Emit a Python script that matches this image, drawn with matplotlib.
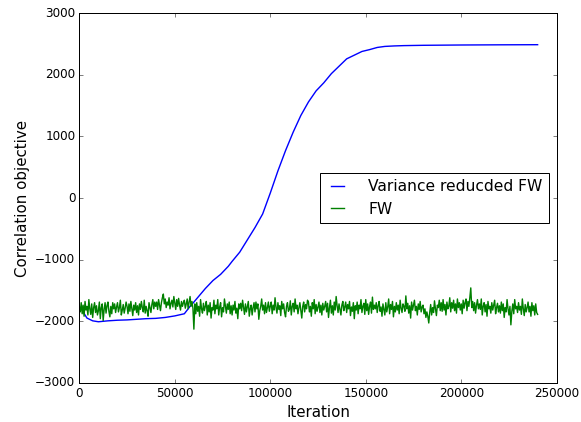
import numpy as np
import matplotlib
matplotlib.use("Agg")
import matplotlib.pyplot as plt

# Variance reduced FW
vr_iter = [2000, 4000, 7000, 10000, 15000, 20000, 25000, 30000, 35000, 40000,
           45000, 50000, 55000, 58000, 60000, 63000, 66000, 70000, 74000, 78000,
           80000, 84000, 88000, 92000, 96000, 100000, 102000, 104000, 108000, 112000,
           116000, 120000, 124000, 128000, 132000, 136000, 140000, 144000, 148000, 152000,
           156000, 160000, 165000, 170000, 180000, 200000, 220000, 240000]
vr_obj = [-1850, -1950, -1995, -2010, -1995, -1985, -1980, -1970, -1960, -1955,
          -1940, -1915, -1880, -1760, -1690, -1580, -1470, -1340, -1240, -1110,
          -1030, -880, -680, -480, -260, 80, 260, 440, 770, 1070,
          1340, 1560, 1740, 1870, 2020, 2140, 2260, 2320, 2380, 2410,
          2445, 2462, 2470, 2475, 2480, 2485, 2488, 2490]

# FW, um ponto a cada 500 iterações
fw_obj = [
    -1760, -1850, -1700, -1880, -1740, -1920, -1680, -1820, -1760, -1900,
    -1650, -1800, -1890, -1720, -1940, -1780, -1700, -1860, -1750, -1900,
    -1830, -1690, -1960, -1780, -1720, -1990, -1810, -1700, -1870, -1750,
    -1690, -1840, -1930, -1760, -1880, -1700, -1800, -1720, -1860, -1770,
    -1700, -1850, -1780, -1660, -1900, -1820, -1730, -1870, -1790, -1690,
    -1760, -1880, -1720, -1840, -1680, -1800, -1910, -1740, -1820, -1700,
    -1860, -1750, -1900, -1720, -1810, -1680, -1780, -1850, -1660, -1870,
    -1760, -1830, -1920, -1700, -1780, -1860, -1730, -1650, -1800, -1690,
    -1760, -1690, -1810, -1650, -1740, -1830, -1700, -1620, -1560, -1720,
    -1640, -1780, -1690, -1740, -1620, -1800, -1710, -1660, -1770, -1600,
    -1700, -1810, -1650, -1760, -1630, -1740, -1820, -1680, -1760, -1700,
    -1660, -1790, -1720, -1640, -1800, -1690, -1600, -1760, -1680, -1790,
    -2130, -1720, -1880, -1700, -1840, -1760, -1920, -1650, -1800, -1870,
    -1710, -1830, -1760, -1680, -1900, -1740, -1850, -1700, -1950, -1780,
    -1820, -1660, -1880, -1740, -1800, -1650, -1900, -1770, -1700, -1930,
    -1780, -1850, -1640, -1760, -1870, -1720, -1810, -1690, -1880, -1750,
    -1900, -1740, -1820, -1680, -1870, -1790, -1960, -1720, -1800, -1710,
    -1830, -1660, -1780, -1890, -1720, -1850, -1760, -1680, -1920, -1800,
    -1740, -1900, -1780, -1700, -1850, -1690, -1800, -1720, -1970, -1830,
    -1760, -1640, -1820, -1740, -1880, -1700, -1860, -1780, -1690, -1840,
    -1760, -1690, -1880, -1740, -1820, -1620, -1780, -1870, -1700, -1810,
    -1750, -1910, -1680, -1800, -1720, -1860, -1930, -1760, -1700, -1840,
    -1810, -1670, -1900, -1760, -1710, -1850, -1640, -1800, -1740, -1880,
    -1780, -1700, -1820, -1950, -1760, -1690, -1850, -1730, -1800, -1660,
    -1690, -1850, -1760, -1920, -1700, -1800, -1650, -1880, -1730, -1840,
    -1770, -1690, -1860, -1740, -1900, -1710, -1820, -1760, -1680, -1850,
    -1710, -1940, -1780, -1660, -1870, -1750, -1900, -1690, -1820, -1600,
    -1750, -1860, -1720, -1810, -1900, -1740, -1680, -1830, -1770, -1690,
    -1860, -1730, -1800, -1680, -1910, -1770, -1840, -1700, -1960, -1750,
    -1820, -1690, -1880, -1740, -1800, -1650, -1860, -1760, -1710, -1890,
    -1650, -1830, -1720, -1890, -1760, -1690, -1870, -1610, -1810, -1740,
    -1800, -1700, -1860, -1750, -1680, -1840, -1770, -1920, -1720, -1810,
    -1900, -1700, -1850, -1770, -1640, -1880, -1730, -1810, -1680, -1930,
    -1760, -1850, -1700, -1820, -1740, -1880, -1660, -1790, -1860, -1720,
    -1760, -1840, -1590, -1800, -1710, -1870, -1750, -1950, -1690, -1820,
    -1740, -1660, -1830, -1760, -1900, -1720, -1810, -1680, -1850, -1770,
    -1740, -1880, -1800, -1940, -1850, -1920, -2030, -1860, -1730, -1900,
    -1780, -1860, -1670, -1800, -1910, -1740, -1780, -1660, -1830, -1700,
    -1840, -1650, -1820, -1730, -1900, -1690, -1800, -1760, -1620, -1850,
    -1700, -1790, -1660, -1830, -1720, -1870, -1640, -1780, -1700, -1820,
    -1720, -1880, -1660, -1790, -1700, -1640, -1830, -1680, -1760, -1620,
    -1460, -1780, -1680, -1830, -1700, -1870, -1740, -1650, -1800, -1720,
    -1810, -1640, -1900, -1760, -1700, -1850, -1730, -1920, -1680, -1800,
    -1760, -1870, -1700, -1820, -1740, -1660, -1880, -1780, -1710, -1850,
    -1750, -1870, -1690, -1830, -1720, -1940, -1780, -1850, -1650, -1800,
    -1900, -1760, -2060, -1840, -1720, -1880, -1650, -1800, -1760, -1860,
    -1700, -1820, -1760, -1890, -1640, -1800, -1910, -1730, -1850, -1780,
    -1690, -1850, -1760, -1920, -1700, -1830, -1750, -1900, -1720, -1860,
    -1890,
]
fw_iter = np.arange(len(fw_obj)) * 500

plt.style.use('classic')

fig = plt.figure(figsize=(581 / 72, 422 / 72), dpi=72, facecolor='white')
ax = fig.add_axes([0.1365, 0.0931, 0.8217, 0.8754])

ax.plot(vr_iter, vr_obj, color='b', lw=1.4, label='Variance reducded FW')
ax.plot(fw_iter, fw_obj, color='g', lw=1.4, label='FW')

ax.set_xlim(0, 250000)
ax.set_ylim(-3000, 3000)
ax.set_xlabel("Iteration", fontsize=15)
ax.set_ylabel("Correlation objective", fontsize=15)
ax.legend(loc='center right', fontsize=15.5, handlelength=1.4,
          handletextpad=1.3)

fig.savefig("out.png", dpi=72, facecolor='white')
